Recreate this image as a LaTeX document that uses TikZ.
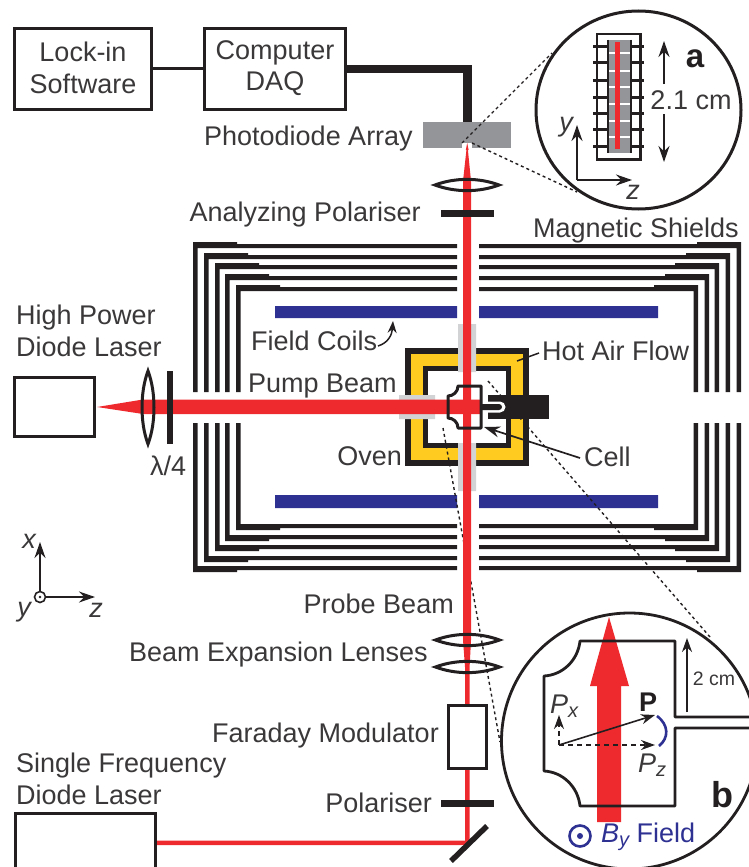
\documentclass[tikz,border=0pt]{standalone}
\usepackage{fontspec}
\setmainfont{Liberation Sans}
\usetikzlibrary{arrows.meta,shapes.geometric}
\definecolor{rd}{HTML}{EE2A2E}
\definecolor{ink}{HTML}{231F20}
\definecolor{txt}{HTML}{3A3839}
\definecolor{yel}{HTML}{FFCB20}
\definecolor{blu}{HTML}{2E3192}
\definecolor{gry}{HTML}{939598}
\definecolor{lgr}{HTML}{D1D3D4}
\newcommand{\labfont}{\fontsize{27}{31.5}\selectfont}
\newcommand{\hlens}[2]{\draw[ink,line width=3pt,line join=miter] (#1-32,#2) .. controls (#1-12,#2-7.5) and (#1+12,#2-7.5) .. (#1+32,#2) .. controls (#1+12,#2+7.5) and (#1-12,#2+7.5) .. (#1-32,#2) -- cycle;}
\tikzset{
 lab/.style={font=\labfont,text=txt,align=center,inner sep=0pt},
 ilab/.style={font=\itshape\labfont,text=txt,inner sep=0pt},
 box/.style={draw=ink,line width=3.4pt,fill=white,inner sep=0pt},
 dots/.style={draw=ink,line width=1.4pt,dash pattern=on 3pt off 3pt},
 tip/.style={-{Stealth[length=16pt,width=11pt]},draw=ink,line width=1.7pt},
 smalltip/.style={-{Stealth[length=14pt,width=10pt]},draw=ink,line width=1.6pt}
}
\begin{document}
\begin{tikzpicture}[x=1pt,y=-1pt]
\useasboundingbox (0,0) rectangle (749,867);
% shields
\foreach \xl/\xr/\yt/\yb in {193/741/242/572,204/730/253/562,215/719/263/551,225/709/274/541,236/698/285/530}{
 \fill[ink] (\xl,392) -- (\xl,\yt) -- ({\xl+44},\yt) -- ({\xl+44},{\yt+2}) -- (457,{\yt+2}) -- (457,{\yt+6}) -- ({\xl+4.5},{\yt+6}) -- ({\xl+4.5},392) -- cycle;
 \fill[ink] (\xr,392) -- (\xr,\yt) -- ({\xr-44},\yt) -- ({\xr-44},{\yt+2}) -- (479,{\yt+2}) -- (479,{\yt+6}) -- ({\xr-4.5},{\yt+6}) -- ({\xr-4.5},392) -- cycle;
 \fill[ink] (\xl,423) -- (\xl,\yb) -- ({\xl+44},\yb) -- ({\xl+44},{\yb-2}) -- (457,{\yb-2}) -- (457,{\yb-6}) -- ({\xl+4.5},{\yb-6}) -- ({\xl+4.5},423) -- cycle;
 \fill[ink] (\xr,423) -- (\xr,\yb) -- ({\xr-44},\yb) -- ({\xr-44},{\yb-2}) -- (479,{\yb-2}) -- (479,{\yb-6}) -- ({\xr-4.5},{\yb-6}) -- ({\xr-4.5},423) -- cycle;
}
% coils
\fill[blu] (275,306) rectangle (457,318) (479,306) rectangle (658,318) (275,495) rectangle (457,508) (479,495) rectangle (658,508);
% oven
\fill[ink] (405,348) rectangle (529,466);
\fill[yel] (411,354) rectangle (523,460);
\fill[ink] (423,366) rectangle (511,448);
\fill[white] (428,371) rectangle (506,443);
% windows
\fill[lgr] (458,324) rectangle (476,372) (458,443) rectangle (476,491) (399,395) rectangle (435,419);
% dotted lines to inset b
\coordinate (d1) at (443,428);
\coordinate (d2) at (500,742);
\coordinate (d3) at (488,381);
\coordinate (d4) at (710,637);
\draw[dots] (d1) -- (d2);
\draw[dots] (d3) -- (d4);
% pump beam
\fill[rd] (97,407) -- (143,399.5) -- (480,399.5) -- (480,414) -- (143,414) -- cycle;
% probe beam
\fill[rd] (467.2,143) -- (471,181) -- (471,640) -- (469.6,667) -- (469.6,845) -- (157,845) -- (157,840.5) -- (465,840.5) -- (465,667) -- (463,640) -- (463,181) -- cycle;
% cell
\draw[ink,line width=3pt,line join=round] (481,386) -- (458,386) .. controls (458,392) and (453,396) .. (448,396) -- (448,418) .. controls (453,418) and (458,422) .. (458,428) -- (481,428) -- cycle;
% stem and holder
\fill[ink] (488,395) rectangle (549,419);
\fill[white] (488,401.5) -- (500,401.5) arc[start angle=-90,end angle=90,radius=5.5] -- (488,412.5) -- cycle;
\fill[ink] (481,404) -- (499,404) arc[start angle=-90,end angle=90,radius=3] -- (481,410) -- cycle;
% top row
\node[box,minimum width=137pt,minimum height=81pt] (lock) at (83,69) {};
\node[lab] (locktxt) at (83,68) {Lock-in\\Software};
\node[box,minimum width=141pt,minimum height=81pt] (daq) at (275,69) {};
\node[lab] (daqtxt) at (275,68) {Computer\\DAQ};
\draw[ink,line width=3pt] (lock.east) -- (daq.west);
\node[fill=gry,minimum width=88pt,minimum height=26pt,inner sep=0pt] (pda) at (467,135) {};
\fill[white] (462,143) rectangle (472,148);
\fill[rd] (467.2,143) -- (468.6,150) -- (465.8,150) -- cycle;
\draw[ink,line width=8.5pt] (daq.east) -- (467.5,69) -- (467.5,122);
\node[lab,anchor=east] (pdalab) at (413,139) {Photodiode Array};
\hlens{467}{185}
\fill[ink] (441,209.5) rectangle (494,216.5);
\node[lab,anchor=east] (aplab) at (421,215) {Analyzing Polariser};
\node[lab,anchor=east] (mslab) at (739,231) {Magnetic Shields};
% inset a
\coordinate (p1) at (462,143);
\coordinate (p2) at (472,143);
\coordinate (p3) at (552,53);
\coordinate (p4) at (577,192);
\draw[dots] (p1) -- (p3);
\draw[dots] (p2) -- (p4);
\node[ellipse,draw=ink,line width=3pt,fill=white,minimum width=205pt,minimum height=198pt,inner sep=0pt] (ca) at (638.5,110) {};
\fill[gry] (608,40) rectangle (630,153);
\foreach \yy in {47,63,80,97,113,129,146}{
 \draw[ink,line width=3pt] (593,\yy) -- (607.5,\yy) (630.5,\yy) -- (644,\yy);
}
\foreach \yy in {53,71,87,104,121,137}{
 \draw[white,line width=1.5pt] (606,\yy) -- (632,\yy);
}
\draw[ink,line width=2.8pt] (597,34) rectangle (640.5,159.5);
\draw[ink,line width=2pt] (607.5,40) -- (607.5,153) (630.5,40) -- (630.5,153);
\fill[rd] (615,42) rectangle (620,149);
\coordinate (aa) at (664,84);\coordinate (ab) at (664,41);
\draw[tip] (aa) -- (ab);
\coordinate (ba) at (664,114);\coordinate (bb) at (664,162);
\draw[tip] (ba) -- (bb);
\node[lab] (dim) at (691,100) {2.1 cm};
\node[font=\bfseries\fontsize{33}{33}\selectfont,text=ink,inner sep=0pt] (alab) at (695,59) {a};
\coordinate (ao) at (577,180);\coordinate (ay) at (577,125);\coordinate (az) at (632,180);
\draw[tip] (ao) -- (ay);
\draw[tip] (ao) -- (az);
\node[ilab] (aylab) at (566,127) {y};
\node[ilab] (azlab) at (633,192) {z};
% left laser
\node[box,minimum width=80pt,minimum height=59pt] (hp) at (54.5,407) {};
\node[lab,anchor=west,align=left] (hplab) at (16,331) {High Power\\Diode Laser};
\draw[ink,line width=3pt,line join=miter] (148,371) .. controls (140,392) and (140,423) .. (148,444) .. controls (156,423) and (156,392) .. (148,371) -- cycle;
\fill[ink] (167,371) rectangle (172.5,444);
\node[lab,anchor=west] (l4) at (150,466) {λ/4};
% mid labels
\node[lab,anchor=west] (fc) at (251,341) {Field Coils};
\draw[ink,line width=1.5pt,-{Stealth[length=12pt,width=9pt]}] (378,346) .. controls (388,343) and (392,335) .. (393,321);
\node[lab,anchor=west] (pb) at (248,386) {Pump Beam};
\node[lab,anchor=west] (ha) at (542,351) {Hot Air Flow};
\coordinate (ha1) at (539,353);\coordinate (ha2) at (517,361);
\draw[ink,line width=1.5pt] (ha1) -- (ha2);
\node[lab,anchor=east] (ov) at (402,456) {Oven};
\node[lab,anchor=west] (cl) at (584,457) {Cell};
\coordinate (cellpt) at (484,427);\coordinate (cellst) at (580,458);
\draw[ink,line width=1.7pt,-{Stealth[length=16pt,width=11pt]}] (cellst) -- (cellpt);
% axes
\coordinate (xo) at (40,597);\coordinate (xx) at (40,542);\coordinate (xz) at (95,597);
\draw[tip] (xo) -- (xx);
\draw[tip] (xo) -- (xz);
\draw[ink,line width=1.6pt,fill=white] (xo) circle (5.5);
\fill[ink] (xo) circle (1.4);
\node[ilab] (xl) at (29,541) {x};
\node[ilab] (yl) at (24,612) {y};
\node[ilab] (zl) at (96,610) {z};
% lower
\node[lab,anchor=east] (prb) at (454,604) {Probe Beam};
\hlens{467.5}{640}
\hlens{467.5}{667}
\node[lab,anchor=east] (bel) at (428,655) {Beam Expansion Lenses};
\node[box,minimum width=38pt,minimum height=63pt] (fm) at (467.5,737) {};
\node[lab,anchor=east] (fml) at (439,736) {Faraday Modulator};
\fill[ink] (441,800) rectangle (494,807);
\node[lab,anchor=east] (pol) at (432,803) {Polariser};
\node[lab,anchor=west,align=left] (sf) at (16,779) {Single Frequency\\Diode Laser};
\draw[ink,line width=3.4pt] (15.5,870) -- (15.5,813.5) -- (155.5,813.5) -- (155.5,870);
\draw[ink,line width=5.5pt] (451,861) -- (487,826);
% inset b
\node[circle,draw=ink,line width=2.8pt,fill=white,minimum size=256pt,inner sep=0pt] (cb) at (629.5,741) {};
\fill[rd] (609,617) -- (629,686) -- (621,686) -- (621,822) -- (597,822) -- (597,686) -- (590,686) -- cycle;
\draw[ink,line width=2.8pt,line join=round] (749,717) -- (675,717) -- (675,641) -- (580,641) .. controls (578,660) and (563,675) .. (544,676) -- (544,771) .. controls (563,772) and (578,787) .. (580,806) -- (675,806) -- (675,728) -- (749,728);
\coordinate (po) at (559,745);\coordinate (pt) at (655,715);\coordinate (pzt) at (655,745);\coordinate (pxt) at (559,715);
\draw[smalltip] (po) -- (pt);
\draw[smalltip,dash pattern=on 5pt off 4pt] (po) -- (pzt);
\draw[smalltip,dash pattern=on 5pt off 4pt] (po) -- (pxt);
\draw[blu,line width=2.6pt] (657,716) .. controls (669,725) and (669,738) .. (659,746);
\coordinate (cm1) at (687,712);\coordinate (cm2) at (687,638);
\draw[smalltip] (cm1) -- (cm2);
\node[font=\fontsize{19.5}{20}\selectfont,text=txt,inner sep=0pt] (cm) at (714,679) {2 cm};
\node[font=\bfseries\fontsize{27}{27}\selectfont,text=ink,inner sep=0pt] (pbold) at (648,702) {P};
\node[text=txt,inner sep=0pt,font=\itshape\labfont] (px) at (564,706) {P\raisebox{-4pt}{\fontsize{20}{20}\selectfont x}};
\node[text=txt,inner sep=0pt,font=\itshape\labfont] (pz) at (652,765) {P\raisebox{-4pt}{\fontsize{20}{20}\selectfont z}};
\node[font=\bfseries\fontsize{36}{36}\selectfont,text=ink,inner sep=0pt] (blab) at (722,795) {b};
\node[circle,draw=blu,line width=2.6pt,minimum size=21pt,inner sep=0pt] (bc) at (580,836) {};
\fill[blu] (bc.center) circle (3);
\node[anchor=west,text=blu,inner sep=0pt,font=\labfont] (bf) at (601,837) {\textit{B\raisebox{-4pt}{\fontsize{20}{20}\selectfont y}} Field};
\end{tikzpicture}
\end{document}
